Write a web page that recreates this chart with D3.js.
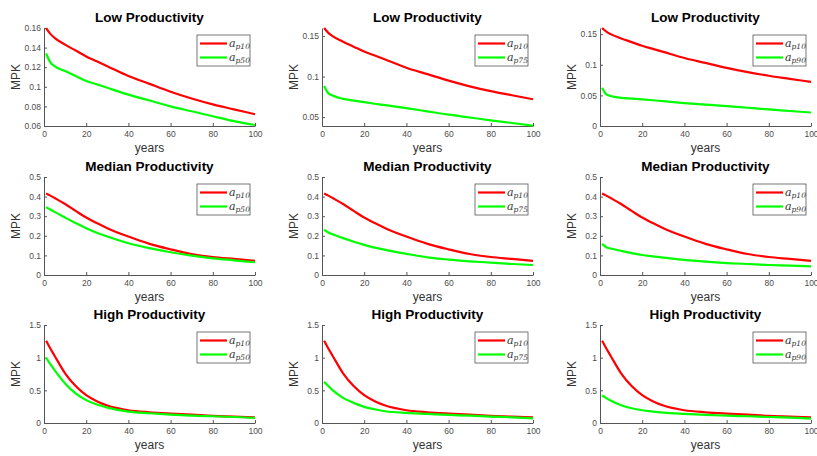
<!DOCTYPE html>
<html>
<head>
<meta charset="utf-8">
<script src="https://cdn.jsdelivr.net/npm/d3@7"></script>
<style>
  body { margin: 0; background: #fff; }
  svg { display: block; font-family: "Liberation Sans", Arial, sans-serif; }
  .tick text { fill: #4d4d4d; font-size: 8.5px; }
  .tick line, .domain { stroke: #555; }
</style>
</head>
<body>
<svg id="chart"></svg>
<script>
var width = 817,
  height = 456;

var years = [1, 3, 5, 10, 15, 20, 25, 30, 40, 50, 60, 70, 80, 90, 100];

// Low productivity
var lowP10 = [0.160, 0.154, 0.150, 0.143, 0.137, 0.131, 0.126, 0.121, 0.111, 0.103, 0.095, 0.088, 0.082, 0.077, 0.072];
var lowP50 = [0.134, 0.125, 0.121, 0.116, 0.111, 0.106, 0.1025, 0.099, 0.092, 0.086, 0.080, 0.075, 0.070, 0.065, 0.061];
var lowP75 = [0.0885, 0.0795, 0.0766, 0.0725, 0.0704, 0.0684, 0.0665, 0.0647, 0.061, 0.057, 0.053, 0.0495, 0.046, 0.0427, 0.0393];
var lowP90 = [0.0625, 0.0516, 0.049, 0.046, 0.0447, 0.0435, 0.042, 0.0405, 0.0375, 0.035, 0.0326, 0.0298, 0.027, 0.0245, 0.022];

// Median productivity
var medP10 = [0.416, 0.405, 0.393, 0.362, 0.327, 0.293, 0.265, 0.239, 0.196, 0.159, 0.131, 0.107, 0.092, 0.082, 0.072];
var medP50 = [0.346, 0.334, 0.322, 0.293, 0.265, 0.239, 0.216, 0.196, 0.162, 0.137, 0.116, 0.099, 0.085, 0.075, 0.065];
var medP75 = [0.232, 0.217, 0.208, 0.188, 0.170, 0.154, 0.140, 0.128, 0.108, 0.090, 0.0785, 0.070, 0.063, 0.056, 0.051];
var medP90 = [0.159, 0.142, 0.135, 0.123, 0.112, 0.102, 0.095, 0.089, 0.077, 0.068, 0.061, 0.056, 0.051, 0.048, 0.044];

// High productivity
var highP10 = [1.26, 1.14, 1.03, 0.76, 0.565, 0.426, 0.334, 0.267, 0.195, 0.164, 0.144, 0.128, 0.108, 0.098, 0.087];
var highP50 = [1.00, 0.90, 0.81, 0.606, 0.452, 0.350, 0.282, 0.236, 0.175, 0.149, 0.128, 0.113, 0.103, 0.092, 0.077];
var highP75 = [0.632, 0.565, 0.503, 0.385, 0.308, 0.247, 0.210, 0.180, 0.154, 0.139, 0.123, 0.113, 0.098, 0.087, 0.072];
var highP90 = [0.421, 0.38, 0.344, 0.272, 0.226, 0.195, 0.175, 0.159, 0.139, 0.123, 0.113, 0.103, 0.092, 0.082, 0.067];

var rowTitles = ['Low Productivity', 'Median Productivity', 'High Productivity'];
var baseLabel = 'p10';
var compareLabels = ['p50', 'p75', 'p90'];
var baseSeries = [lowP10, medP10, highP10];
var compareSeries = [
  [lowP50, lowP75, lowP90],
  [medP50, medP75, medP90],
  [highP50, highP75, highP90]
];

var xTicks = [0, 20, 40, 60, 80, 100];
var yTicks = [
  [[0.06, 0.08, 0.1, 0.12, 0.14, 0.16], [0.05, 0.1, 0.15], [0, 0.05, 0.1, 0.15]],
  [[0, 0.1, 0.2, 0.3, 0.4, 0.5], [0, 0.1, 0.2, 0.3, 0.4, 0.5], [0, 0.1, 0.2, 0.3, 0.4, 0.5]],
  [[0, 0.5, 1, 1.5], [0, 0.5, 1, 1.5], [0, 0.5, 1, 1.5]]
];
var yDomains = [
  [[0.06, 0.16], [0.039, 0.16], [0, 0.16]],
  [[0, 0.5], [0, 0.5], [0, 0.5]],
  [[0, 1.5], [0, 1.5], [0, 1.5]]
];

var colLeft = [44, 322, 600],
  rowTop = [28, 177, 325],
  plotW = 211,
  plotH = 98;

var svg = d3.select('#chart')
  .attr('width', width)
  .attr('height', height);

rowTitles.forEach(function(title, r) {
  compareLabels.forEach(function(lbl, c) {
    drawPanel(r, c);
  });
});

function drawPanel(r, c) {
  var g = svg.append('g')
    .attr('transform', 'translate(' + colLeft[c] + ',' + rowTop[r] + ')');

  var x = d3.scaleLinear().domain([0, 100]).range([0, plotW]);
  var y = d3.scaleLinear().domain(yDomains[r][c]).range([plotH, 0]);

  g.append('g')
    .attr('transform', 'translate(0,' + plotH + ')')
    .call(d3.axisBottom(x).tickValues(xTicks).tickSizeInner(-3).tickSizeOuter(0).tickPadding(5));

  g.append('g')
    .call(d3.axisLeft(y).tickValues(yTicks[r][c]).tickFormat(d3.format('~g'))
      .tickSizeInner(-3).tickSizeOuter(0).tickPadding(3));

  g.append('text')
    .attr('x', plotW / 2)
    .attr('y', -6)
    .attr('text-anchor', 'middle')
    .attr('font-size', '13.5px')
    .attr('font-weight', 'bold')
    .attr('fill', '#000')
    .text(rowTitles[r]);

  g.append('text')
    .attr('x', plotW / 2)
    .attr('y', plotH + 26)
    .attr('text-anchor', 'middle')
    .attr('font-size', '12px')
    .attr('fill', '#333')
    .text('years');

  g.append('text')
    .attr('transform', 'translate(' + (-28) + ',' + (plotH / 2) + ')rotate(-90)')
    .attr('text-anchor', 'middle')
    .attr('dy', '0.35em')
    .attr('font-size', '12px')
    .attr('fill', '#333')
    .text('MPK');

  var line = d3.line()
    .x(function(d, i) { return x(years[i]); })
    .y(function(d) { return y(d); })
    .curve(d3.curveMonotoneX);

  var series = [
    { values: baseSeries[r], color: '#ff0000', label: baseLabel },
    { values: compareSeries[r][c], color: '#00ff00', label: compareLabels[c] }
  ];

  g.selectAll('path.series')
    .data(series)
    .enter().append('path')
    .attr('class', 'series')
    .attr('fill', 'none')
    .attr('stroke', function(d) { return d.color; })
    .attr('stroke-width', 2.2)
    .attr('d', function(d) { return line(d.values); });

  // legend
  var lg = g.append('g')
    .attr('transform', 'translate(' + (plotW - 58) + ',7)');

  lg.append('rect')
    .attr('width', 53)
    .attr('height', 31)
    .attr('fill', '#fff')
    .attr('stroke', '#555')
    .attr('stroke-width', 0.8);

  var item = lg.selectAll('g.item')
    .data(series)
    .enter().append('g')
    .attr('class', 'item')
    .attr('transform', function(d, i) { return 'translate(0,' + (8.5 + i * 14) + ')'; });

  item.append('line')
    .attr('x1', 3)
    .attr('x2', 30)
    .attr('stroke', function(d) { return d.color; })
    .attr('stroke-width', 2.2);

  var t = item.append('text')
    .attr('x', 32)
    .attr('y', 3)
    .attr('font-family', '"DejaVu Serif", "Liberation Serif", serif')
    .attr('fill', '#333');

  t.append('tspan')
    .attr('font-style', 'italic')
    .attr('font-size', '11px')
    .text('a');

  t.append('tspan')
    .attr('font-style', 'italic')
    .attr('font-size', '7.5px')
    .attr('dy', 2.5)
    .text(function(d) { return d.label; });
}
</script>
</body>
</html>
